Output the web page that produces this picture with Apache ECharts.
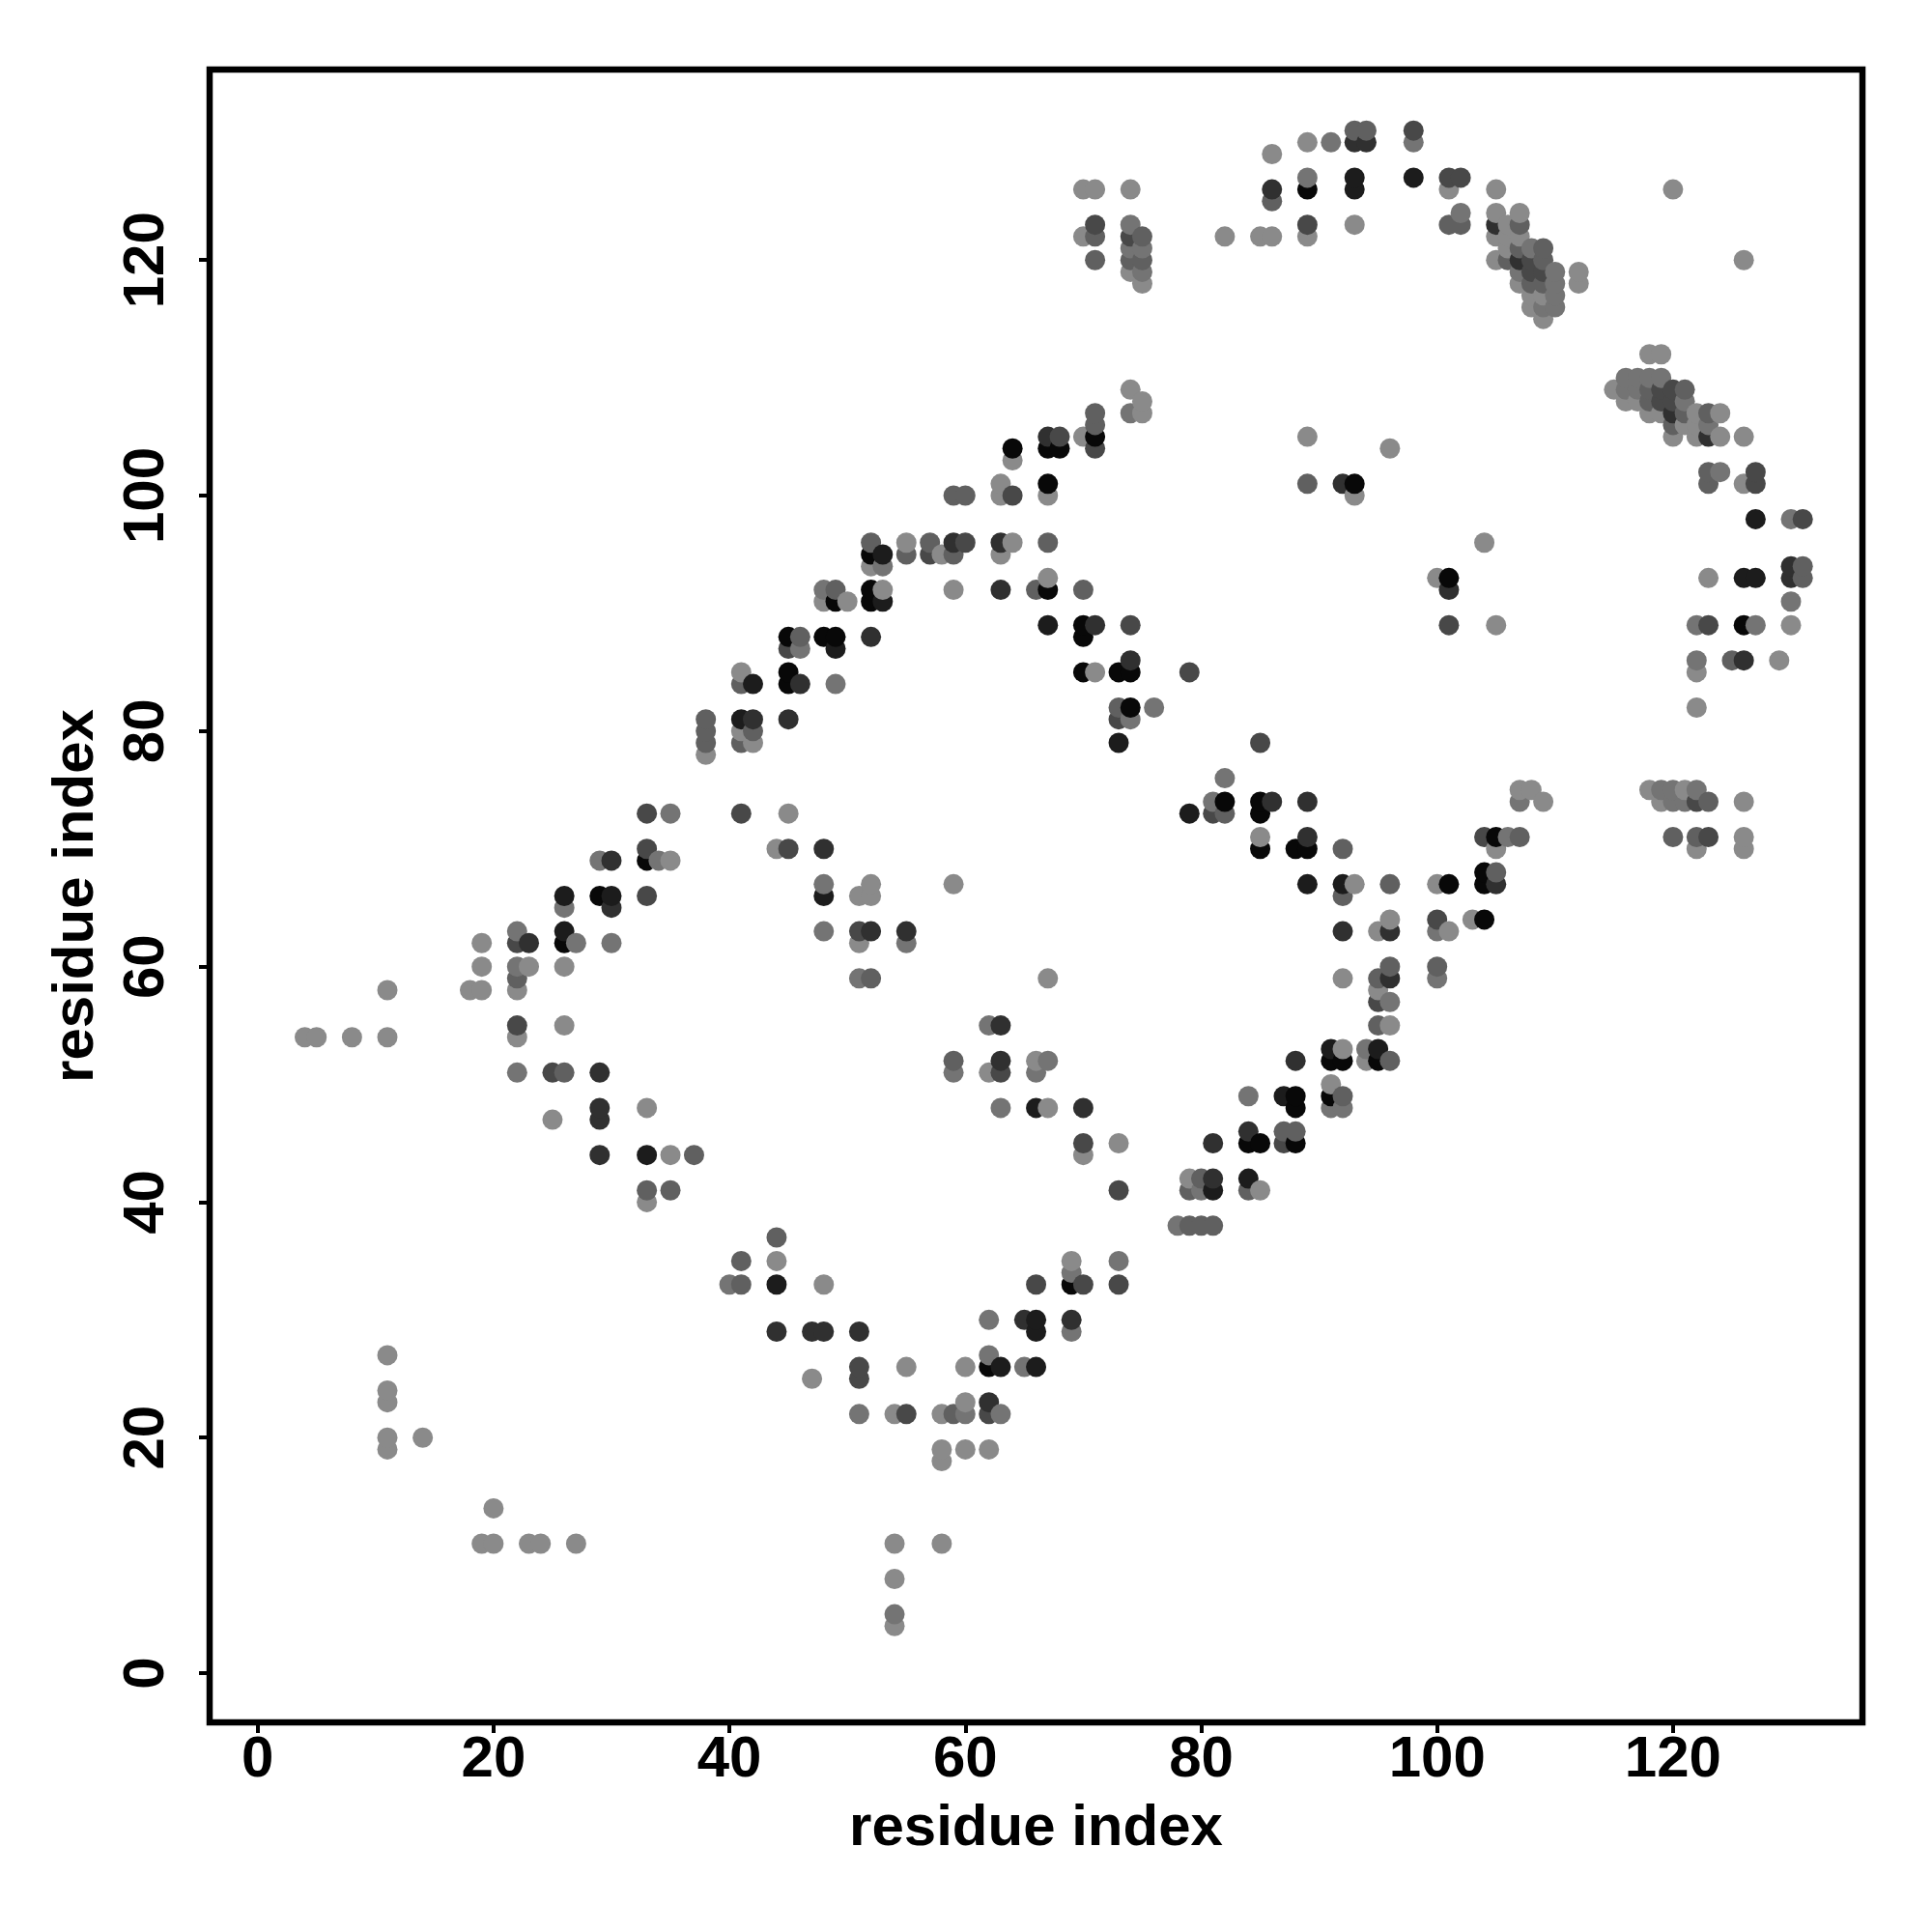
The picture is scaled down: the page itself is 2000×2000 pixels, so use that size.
<!DOCTYPE html>
<html><head><meta charset="utf-8">
<style>html,body{margin:0;padding:0;background:#fff}#c{width:2000px;height:2000px}</style>
<script src="https://cdn.jsdelivr.net/npm/echarts@6/dist/echarts.min.js"></script>
</head><body><div id="c"></div>
<script>
const axisTicks = [0,20,40,60,80,100,120];
const axisTitle = 'residue index';
const contactsBlack = [[52,95],[52,92],[49,91],[52,91],[45,88],[48,88],[49,88],[45,85],[45,84],[33,69],[29,66],[26,62],
[71,105],[64,104],[67,104],[68,104],[67,101],[93,101],[67,92],[70,89],[70,88],[70,85],[73,85],[74,85],[74,82],[82,74],[85,74],[85,73],[85,70],[88,70],[89,70],
[105,71],[104,68],[101,67],[104,67],[104,64],[91,52],[92,52],[95,52],[88,49],[91,49],[88,48],[84,45],[85,45],[88,45],[69,33],[62,26],[89,126],[126,89],[101,93]];
const contactsNearBlack = [[53,95],[53,91],[49,87],[42,84],[41,81],[26,66],[30,66],[48,66],[26,63],[67,89],[73,79],[79,73],
[89,67],[92,67],[91,53],[95,53],[87,49],[84,42],[81,41],[66,48],[66,30],[66,29],[63,26],[66,26],[33,44],[44,33],[93,127],[98,127],[93,126],[127,98],[126,93],[127,93]];
const contactsDark = [[52,88],[46,84],[42,81],[45,81],[48,70],[30,69],[30,65],[52,63],[55,63],[23,62],[67,105],[92,101],[59,96],[63,96],[63,92],[71,89],[74,86],[86,74],[89,74],[89,71],
[105,67],[92,63],[96,63],[96,59],[88,52],[84,46],[81,45],[81,42],[63,55],[63,52],[70,48],[65,30],[69,30],[62,23],[29,51],[29,48],[29,47],[29,44],[44,29],[47,29],[48,29],[51,29],
[93,130],[94,130],[86,126],[105,123],[107,120],[120,107],[123,105],[130,94],[130,93],[126,86],[101,92]];
const contactsDarkGrey = [[45,87],[33,73],[41,73],[33,70],[45,70],[33,66],[51,63],[22,62],[68,105],[71,104],[64,100],[60,96],[57,95],[74,89],[79,85],[73,81],[85,79],[81,73],
[104,71],[100,64],[95,57],[87,45],[63,51],[70,45],[73,41],[66,33],[70,33],[73,33],[62,22],[22,55],[25,51],[51,26],[51,25],[55,22],
[98,131],[101,127],[102,127],[71,123],[89,123],[74,122],[108,120],[108,119],[109,119],[119,109],[120,109],[119,108],[120,108],[127,102],[127,101],[131,98],[123,89],[122,74],[123,71],[101,89]];
const contactsMidGrey = [[52,96],[55,95],[49,92],[46,88],[41,84],[38,81],[38,80],[42,80],[38,79],[41,79],[22,59],[52,59],[71,107],[71,106],[59,100],[60,100],[57,96],[67,96],[59,95],[66,92],[70,92],[73,82],[89,101],[82,73],[92,70],
[107,71],[105,68],[96,67],[92,66],[96,60],[100,60],[95,59],[95,55],[96,52],[92,49],[87,46],[88,46],[80,42],[79,41],[84,41],[79,38],[80,38],[81,38],[59,52],[59,22],[26,51],[37,44],[33,41],[35,41],[44,37],[41,35],[41,33],
[93,131],[94,131],[86,125],[101,123],[102,123],[107,123],[71,122],[75,122],[71,120],[74,120],[75,120],[106,120],[109,121],[109,120],[108,118],[109,118],[107,121],
[118,109],[121,109],[118,108],[121,107],[123,107],[120,106],[123,102],[123,101],[131,94],[131,93],[125,86],[123,74],[120,71],[122,71]];
const contactsGrey = [[53,94],[48,92],[46,87],[49,84],[35,73],[29,69],[34,69],[48,67],[26,65],[22,63],[48,63],[27,62],[30,62],[55,62],[22,60],[51,59],[74,107],[76,82],[82,76],[81,74],[74,81],
[107,74],[106,71],[100,63],[100,59],[96,57],[94,53],[84,49],[91,48],[92,48],[80,41],[78,38],[62,55],[67,52],[59,51],[66,51],[63,48],[73,35],[69,34],[62,30],[69,29],[62,27],[65,26],[60,22],[63,22],[22,51],[40,33],[51,22],[54,5],
[91,130],[98,130],[89,127],[74,123],[74,121],[75,121],[108,121],[107,119],[110,119],[110,118],[110,117],[75,119],[102,124],[109,116],[110,116],
[116,110],[117,110],[118,110],[119,110],[116,109],[117,109],[121,108],[123,106],[124,102],[130,98],[130,91],[122,89],[127,89],[122,86],[119,75],[120,75],[122,75],[120,74],[121,74]];
const contactsLight = [[55,96],[52,94],[48,91],[50,91],[53,92],[41,85],[42,79],[38,78],[41,80],[45,73],[44,70],[35,69],[52,67],[51,66],[52,66],[51,62],[19,62],[19,60],[23,60],[26,60],[18,58],[19,58],[22,58],[59,67],
[74,109],[75,108],[75,107],[70,105],[89,105],[96,104],[64,103],[63,101],[93,100],[63,100],[67,100],[64,96],[58,95],[63,95],[67,93],[59,92],[71,85],[85,71],
[107,75],[108,75],[109,74],[105,70],[93,67],[100,67],[96,64],[103,64],[95,63],[101,63],[92,59],[95,58],[96,55],[92,53],[94,52],[91,50],[79,42],[85,41],
[67,59],[66,52],[62,51],[67,48],[73,45],[70,44],[69,35],[60,26],[60,23],[58,22],[58,19],[60,19],[62,19],
[11,58],[4,54],[5,54],[8,54],[11,54],[22,54],[26,55],[33,48],[25,47],[35,44],[33,40],[44,35],[48,33],[11,27],[55,26],[47,25],[11,24],[11,23],[54,22],[11,20],[14,20],[11,19],[58,18],[20,14],[19,11],[20,11],[23,11],[24,11],[27,11],[54,11],[58,11],[54,8],[54,4],
[89,130],[86,129],[70,126],[71,126],[74,126],[101,126],[105,126],[120,126],[105,124],[107,124],[93,123],[106,123],[70,122],[82,122],[85,122],[86,122],[89,122],[105,122],[106,122],[107,122],[106,121],[105,120],[126,120],[74,119],[112,119],[75,118],[107,118],[112,118],[108,117],[109,117],[108,116],[109,115],
[118,112],[119,112],[115,109],[116,108],[117,108],[118,107],[119,107],[122,107],[124,107],[121,106],[122,106],[120,105],[122,105],[124,105],[126,105],[126,101],
[123,93],[130,89],[129,86],[122,85],[122,82],[118,75],[121,75],[119,74],[126,74],[126,71],[122,70],[126,70],[100,93],[105,89],[104,96]];

const groups = [contactsBlack,contactsNearBlack,contactsDark,contactsDarkGrey,contactsMidGrey,contactsGrey,contactsLight];
const shades = ['#080808','#1c1c1c','#303030','#484848','#606060','#747474','#8a8a8a'];
const points = [];
groups.forEach((g,i)=>g.forEach(p=>points.push([p[0],p[1],i])));
points.sort((a,b)=>a[0]-b[0]||a[1]-b[1]);

const font = 'Liberation Sans';
const chart = echarts.init(document.getElementById('c'),null,{renderer:'canvas'});
const axisBase = {
  type:'value', name:axisTitle, nameLocation:'middle',
  nameTextStyle:{fontFamily:font,fontWeight:'bold',fontSize:60,color:'#000'},
  splitLine:{show:false}, axisLine:{show:false,onZero:false},
  axisTick:{show:true,length:11,inside:false,lineStyle:{color:'#000',width:4},customValues:axisTicks},
  axisLabel:{fontFamily:font,fontWeight:'bold',fontSize:60,color:'#000',customValues:axisTicks,hideOverlap:false,showMinLabel:true,showMaxLabel:true}
};
chart.setOption({
  animation:false, backgroundColor:'#fff',
  grid:{left:217,right:72,top:72,bottom:217,show:true,borderColor:'#000',borderWidth:6.5,backgroundColor:'transparent'},
  xAxis:Object.assign({},axisBase,{min:-4.07,max:136.06,nameGap:80,
    axisLabel:Object.assign({},axisBase.axisLabel,{margin:9})}),
  yAxis:Object.assign({},axisBase,{min:-4.18,max:136.18,nameGap:108,
    axisLabel:Object.assign({},axisBase.axisLabel,{rotate:90,margin:35})}),
  series:[{type:'scatter',symbol:'circle',symbolSize:21,silent:true,large:false,data:points,encode:{x:0,y:1},
    itemStyle:{opacity:1,color:p=>shades[p.value[2]]}}]
});
</script></body></html>
